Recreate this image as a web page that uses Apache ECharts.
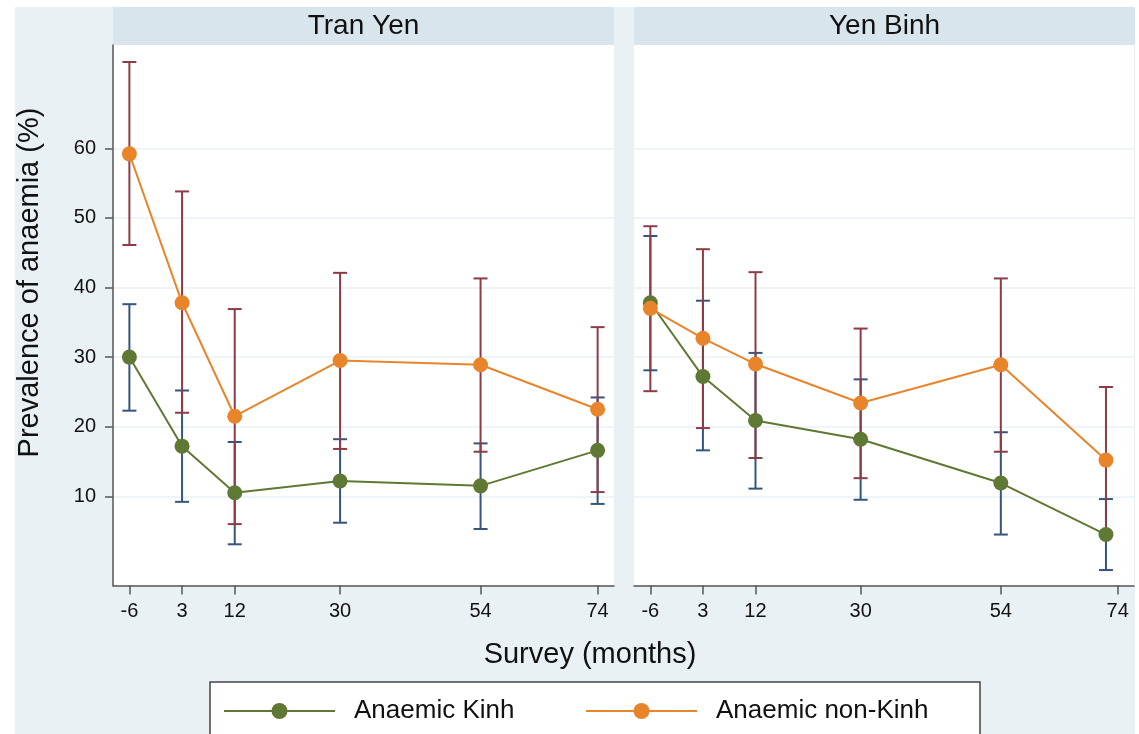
<!DOCTYPE html>
<html>
<head>
<meta charset="utf-8">
<script src="https://cdn.jsdelivr.net/npm/echarts@6/dist/echarts.min.js"></script>
<style>
html,body{margin:0;padding:0;background:#ffffff;}
#c{position:absolute;left:15px;top:7px;width:1120px;height:727px;}
</style>
</head>
<body>
<div id="c"></div>
<script>
// ---- data ----
const panelTitles = ['Tran Yen', 'Yen Binh'];
const seriesNames = ['Anaemic Kinh', 'Anaemic non-Kinh'];
const tyMonths = [-6, 3, 12, 30, 54, 74];
const ybMonths = [-6, 3, 12, 30, 54, 72];
const xTicks = [-6, 3, 12, 30, 54, 74];
const yTicks = [10, 20, 30, 40, 50, 60];

const tyKinh   = [30.0, 17.2, 10.5, 12.2, 11.5, 16.6];
const tyKinhLo = [22.3,  9.2,  3.1,  6.2,  5.3,  8.9];
const tyKinhHi = [37.6, 25.2, 17.8, 18.2, 17.6, 24.2];
const tyNon    = [59.2, 37.8, 21.5, 29.5, 28.9, 22.5];
const tyNonLo  = [46.1, 22.0,  6.0, 16.8, 16.4, 10.6];
const tyNonHi  = [72.4, 53.8, 36.9, 42.1, 41.3, 34.3];

const ybKinh   = [37.8, 27.2, 20.9, 18.2, 11.9,  4.5];
const ybKinhLo = [28.1, 16.6, 11.1,  9.5,  4.5, -0.6];
const ybKinhHi = [47.4, 38.1, 30.6, 26.8, 19.2,  9.6];
const ybNon    = [37.0, 32.7, 29.0, 23.4, 28.9, 15.2];
const ybNonLo  = [25.1, 19.8, 15.5, 12.6, 16.4,  4.8];
const ybNonHi  = [48.8, 45.5, 42.2, 34.1, 41.3, 25.7];

// ---- styles ----
const FONT = '"Liberation Sans", Arial, sans-serif';
const cGreen = '#5f7833';
const cOrange = '#e8852b';
const cNavy = '#35557c';
const cMaroon = '#8d3c46';
const cGrid = '#e9f0f5';
const cAxis = '#555555';

const chart = echarts.init(document.getElementById('c'), null, {renderer: 'canvas'});

function zip(xs, ys) { return xs.map((x, i) => [x, ys[i]]); }
function zip3(xs, lo, hi) { return xs.map((x, i) => [x, lo[i], hi[i]]); }

function errRender(params, api) {
  const x = api.value(0), lo = api.value(1), hi = api.value(2);
  const p1 = api.coord([x, lo]);
  const p2 = api.coord([x, hi]);
  const w = 7;
  const style = {stroke: api.visual('color'), lineWidth: 2};
  return {
    type: 'group',
    children: [
      {type: 'line', shape: {x1: p1[0], y1: p1[1], x2: p2[0], y2: p2[1]}, style: style},
      {type: 'line', shape: {x1: p1[0] - w, y1: p1[1], x2: p1[0] + w, y2: p1[1]}, style: style},
      {type: 'line', shape: {x1: p2[0] - w, y1: p2[1], x2: p2[0] + w, y2: p2[1]}, style: style}
    ]
  };
}

function xAxisCfg(gridIndex) {
  return {
    type: 'value', gridIndex: gridIndex, min: -8.8, max: 76.8,
    axisLine: {show: true, onZero: false, lineStyle: {color: cAxis, width: 1.5}},
    axisTick: {show: true, length: 9, customValues: xTicks, lineStyle: {color: cAxis, width: 1.5}},
    axisLabel: {show: true, customValues: xTicks, margin: 16, fontSize: 20, color: '#111', fontFamily: FONT},
    splitLine: {show: false}
  };
}
function yAxisCfg(gridIndex, showAxis) {
  return {
    type: 'value', gridIndex: gridIndex, min: -2.82, max: 74.84,
    axisLine: {show: showAxis, onZero: false, lineStyle: {color: cAxis, width: 1.5}},
    axisTick: {show: showAxis, length: 8, customValues: yTicks, lineStyle: {color: cAxis, width: 1.5}},
    axisLabel: {show: showAxis, customValues: yTicks, margin: 17, fontSize: 20, color: '#111', fontFamily: FONT},
    splitLine: {show: true, lineStyle: {color: cGrid, width: 1.5}}
  };
}

function panelSeries(idx, months, k, kLo, kHi, n, nLo, nHi) {
  return [
    {type: 'custom', name: 'ci-k-' + idx, xAxisIndex: idx, yAxisIndex: idx, renderItem: errRender,
     itemStyle: {color: cNavy}, data: zip3(months, kLo, kHi), z: 2, silent: true},
    {type: 'custom', name: 'ci-n-' + idx, xAxisIndex: idx, yAxisIndex: idx, renderItem: errRender,
     itemStyle: {color: cMaroon}, data: zip3(months, nLo, nHi), z: 3, silent: true},
    {type: 'line', name: seriesNames[0], xAxisIndex: idx, yAxisIndex: idx, data: zip(months, k),
     symbol: 'circle', symbolSize: 15, showAllSymbol: true, z: 4,
     lineStyle: {color: cGreen, width: 2}, itemStyle: {color: cGreen}},
    {type: 'line', name: seriesNames[1], xAxisIndex: idx, yAxisIndex: idx, data: zip(months, n),
     symbol: 'circle', symbolSize: 15, showAllSymbol: true, z: 5,
     lineStyle: {color: cOrange, width: 2}, itemStyle: {color: cOrange}}
  ];
}

const legendCommon = {
  orient: 'horizontal', top: 691, padding: 0, itemWidth: 111, itemHeight: 20, z: 10,
  selectedMode: false,
  textStyle: {fontSize: 26, color: '#111', fontFamily: FONT, padding: [0, 0, 0, 14]}
};

const option = {
  backgroundColor: '#eaf1f5',
  animation: false,
  grid: [
    {left: 98, top: 38, width: 501, height: 540.5, show: true, backgroundColor: '#ffffff', borderWidth: 0},
    {left: 619, top: 38, width: 500, height: 540.5, show: true, backgroundColor: '#ffffff', borderWidth: 0}
  ],
  xAxis: [xAxisCfg(0), xAxisCfg(1)],
  yAxis: [yAxisCfg(0, true), yAxisCfg(1, false)],
  legend: [
    Object.assign({}, legendCommon, {left: 208, data: [seriesNames[0]]}),
    Object.assign({}, legendCommon, {left: 570, data: [seriesNames[1]]})
  ],
  graphic: [
    {type: 'rect', shape: {x: 98, y: 0, width: 501, height: 38}, style: {fill: '#d8e5ed'}, z: 0},
    {type: 'rect', shape: {x: 619, y: 0, width: 501, height: 38}, style: {fill: '#d8e5ed'}, z: 0},
    {type: 'text', x: 348.5, y: 19, style: {text: panelTitles[0], fontSize: 28, fontFamily: FONT, fill: '#111', textAlign: 'center', textVerticalAlign: 'middle'}, z: 1},
    {type: 'text', x: 869.5, y: 19, style: {text: panelTitles[1], fontSize: 28, fontFamily: FONT, fill: '#111', textAlign: 'center', textVerticalAlign: 'middle'}, z: 1},
    {type: 'text', x: 575, y: 648, style: {text: 'Survey (months)', fontSize: 29, fontFamily: FONT, fill: '#111', textAlign: 'center', textVerticalAlign: 'middle'}, z: 1},
    {type: 'text', x: 15, y: 275.5, rotation: Math.PI / 2, style: {text: 'Prevalence of anaemia (%)', fontSize: 29, fontFamily: FONT, fill: '#111', textAlign: 'center', textVerticalAlign: 'middle'}, z: 1},
    {type: 'rect', shape: {x: 195, y: 675, width: 770, height: 80}, style: {fill: '#ffffff', stroke: '#444444', lineWidth: 1.5}, z: 0}
  ],
  series: [].concat(
    panelSeries(0, tyMonths, tyKinh, tyKinhLo, tyKinhHi, tyNon, tyNonLo, tyNonHi),
    panelSeries(1, ybMonths, ybKinh, ybKinhLo, ybKinhHi, ybNon, ybNonLo, ybNonHi)
  )
};
chart.setOption(option);
</script>
</body>
</html>
